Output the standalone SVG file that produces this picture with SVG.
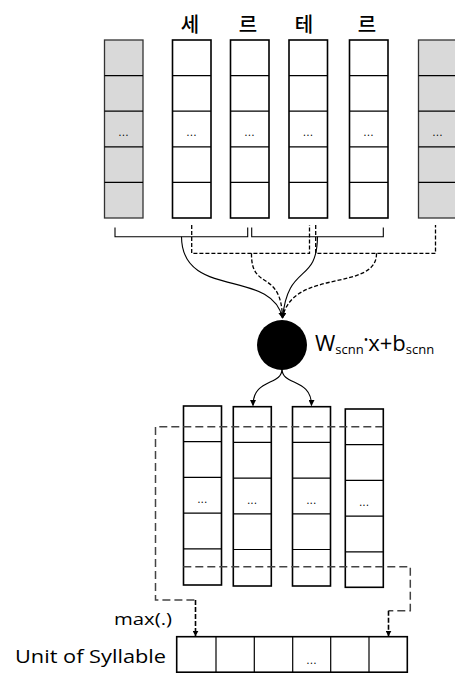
<svg xmlns="http://www.w3.org/2000/svg" width="455" height="673" viewBox="0 0 455 673">
  <style>
    .col { fill: #ffffff; stroke: #000; stroke-width: 1.6; }
    .pad { fill: #d9d9d9; stroke: #333; stroke-width: 1.3; }
    .row { stroke: #000; stroke-width: 1.2; }
    .dots { font-family: "Open Sans", "Liberation Sans", sans-serif; font-size: 11px; fill: #000; text-anchor: middle; letter-spacing: 0.5px; }
    .syl { font-family: "Noto Sans CJK KR", "Noto Sans", sans-serif; font-size: 20px; font-weight: 500; fill: #000; text-anchor: middle; }
    .lbl { font-family: "Open Sans", "Liberation Sans", sans-serif; fill: #000; }
    .solid { fill: none; stroke: #000; stroke-width: 1.1; }
    .dash { fill: none; stroke: #000; stroke-width: 1.3; stroke-dasharray: 4 2; }
    .pool { fill: none; stroke: #444; stroke-width: 1.5; stroke-dasharray: 8 4; }
    .poolEnd { fill: none; stroke: #000; stroke-width: 1.6; stroke-dasharray: 5 2; }
  </style>
  <defs>
    <marker id="tip" viewBox="0 0 10 10" refX="9" refY="5" markerWidth="6" markerHeight="6" orient="auto" markerUnits="userSpaceOnUse">
      <path d="M0,0 L10,5 L0,10 z" fill="#000"/>
    </marker>
    <!-- cell dividers of a top column: 5 cells, 178 tall -->
    <g id="rowsTop">
      <line class="row" x1="0" y1="35.6" x2="38.5" y2="35.6"/>
      <line class="row" x1="0" y1="71.2" x2="38.5" y2="71.2"/>
      <line class="row" x1="0" y1="106.8" x2="38.5" y2="106.8"/>
      <line class="row" x1="0" y1="142.4" x2="38.5" y2="142.4"/>
    </g>
    <!-- cell dividers of a feature map column -->
    <g id="rowsLow">
      <line class="row" x1="0" y1="35.7" x2="38" y2="35.7"/>
      <line class="row" x1="0" y1="71.4" x2="38" y2="71.4"/>
      <line class="row" x1="0" y1="107.1" x2="38" y2="107.1"/>
      <line class="row" x1="0" y1="142.8" x2="38" y2="142.8"/>
    </g>
  </defs>

  <rect width="455" height="673" fill="#ffffff"/>

  <!-- syllable labels -->
  <g id="labels">
    <text class="syl" x="190" y="32">세</text>
    <text class="syl" x="248" y="32">르</text>
    <text class="syl" x="304" y="32">테</text>
    <text class="syl" x="367" y="32">르</text>
  </g>

  <!-- input embedding columns (padding columns shaded) -->
  <g id="pad-left" transform="translate(104.5,40)">
    <rect class="pad" width="38.5" height="178"/>
    <use href="#rowsTop" style="stroke:#333"/>
    <text class="dots" x="19.2" y="96">...</text>
  </g>
  <g id="col-se" transform="translate(172.5,40)">
    <rect class="col" width="38.5" height="178"/>
    <use href="#rowsTop"/>
    <text class="dots" x="19.2" y="96">...</text>
  </g>
  <g id="col-reu1" transform="translate(230.5,40)">
    <rect class="col" width="38.5" height="178"/>
    <use href="#rowsTop"/>
    <text class="dots" x="19.2" y="96">...</text>
  </g>
  <g id="col-te" transform="translate(289,40)">
    <rect class="col" width="38.5" height="178"/>
    <use href="#rowsTop"/>
    <text class="dots" x="19.2" y="96">...</text>
  </g>
  <g id="col-reu2" transform="translate(349.5,40)">
    <rect class="col" width="38.5" height="178"/>
    <use href="#rowsTop"/>
    <text class="dots" x="19.2" y="96">...</text>
  </g>
  <g id="pad-right" transform="translate(418.5,40)">
    <rect class="pad" width="38.5" height="178"/>
    <use href="#rowsTop" style="stroke:#333"/>
    <text class="dots" x="19.2" y="96">...</text>
  </g>

  <!-- convolution filter -->
  <g id="filter">
    <circle cx="282" cy="345" r="25" fill="#000"/>
    <text class="lbl" x="315" y="351" font-size="22">W<tspan font-size="13" dy="3">scnn</tspan><tspan font-size="12" dy="-10">•</tspan><tspan font-size="22" dy="7">x+b</tspan><tspan font-size="13" dy="3">scnn</tspan></text>
  </g>

  <!-- feature map columns -->
  <g id="fmap-1" transform="translate(183.5,406)">
    <rect class="col" width="38" height="179"/>
    <use href="#rowsLow"/>
    <text class="dots" x="19" y="97">...</text>
  </g>
  <g id="fmap-2" transform="translate(233.3,406.7)">
    <rect class="col" width="38" height="179.3"/>
    <use href="#rowsLow"/>
    <text class="dots" x="19" y="97">...</text>
  </g>
  <g id="fmap-3" transform="translate(292.5,406.7)">
    <rect class="col" width="38" height="179.3"/>
    <use href="#rowsLow"/>
    <text class="dots" x="19" y="97">...</text>
  </g>
  <g id="fmap-4" transform="translate(345.3,409)">
    <rect class="col" width="38" height="178.3"/>
    <use href="#rowsLow"/>
    <text class="dots" x="19" y="97">...</text>
  </g>

  <!-- pooled syllable vector -->
  <g id="syllable-vector">
    <rect class="col" x="176.7" y="636.7" width="230.6" height="35.5"/>
    <line class="row" x1="216" y1="636.7" x2="216" y2="672.2"/>
    <line class="row" x1="254.3" y1="636.7" x2="254.3" y2="672.2"/>
    <line class="row" x1="292.7" y1="636.7" x2="292.7" y2="672.2"/>
    <line class="row" x1="330.7" y1="636.7" x2="330.7" y2="672.2"/>
    <line class="row" x1="369" y1="636.7" x2="369" y2="672.2"/>
    <text class="dots" x="311.7" y="664">...</text>
  </g>

  <!-- convolution windows, flows into the filter, and max pooling -->
  <g id="connectors">
    <!-- solid windows -->
    <path class="solid" d="M115,227.5 V236.7 H247.7 V227.5"/>
    <path class="solid" d="M251.7,227.5 V236.7 H383.3 V227.5"/>
    <!-- dashed windows -->
    <path class="dash" d="M191.7,225 V253.3 H309.5 V225"/>
    <path class="dash" d="M315.7,225 V253.3 H435.5 V225"/>
    <!-- flows to the filter node -->
    <path class="solid" d="M181.5,236.7 C182,300 272,268 282.5,318" marker-end="url(#tip)"/>
    <path class="solid" d="M317.5,236.7 C317,285 288,262 282.5,318" marker-end="url(#tip)"/>
    <path class="dash" d="M251.5,253.3 C251,292 281,268 282.5,318" marker-end="url(#tip)"/>
    <path class="dash" d="M376.5,253.3 C377,292 292,268 282.5,318" marker-end="url(#tip)"/>
    <!-- filter outputs -->
    <path class="solid" d="M282,369 C282,386 253,378 253,405.5" marker-end="url(#tip)"/>
    <path class="solid" d="M282,369 C282,386 311.5,378 311.5,405.5" marker-end="url(#tip)"/>
    <!-- max pooling over the feature maps -->
    <path class="pool" d="M383.3,426.7 H155.5 V600 H195.5"/>
    <path class="poolEnd" d="M195.5,600 V636" marker-end="url(#tip)"/>
    <path class="pool" d="M183.3,566.7 H410.3 V610.7 H388.5"/>
    <path class="poolEnd" d="M388.5,610.7 V636" marker-end="url(#tip)"/>
  </g>

  <g id="captions">
    <text class="lbl" x="114" y="625" font-size="17" textLength="58" lengthAdjust="spacingAndGlyphs">max(.)</text>
    <text class="lbl" x="15" y="663" font-size="18" textLength="151" lengthAdjust="spacingAndGlyphs">Unit of Syllable</text>
  </g>
</svg>
